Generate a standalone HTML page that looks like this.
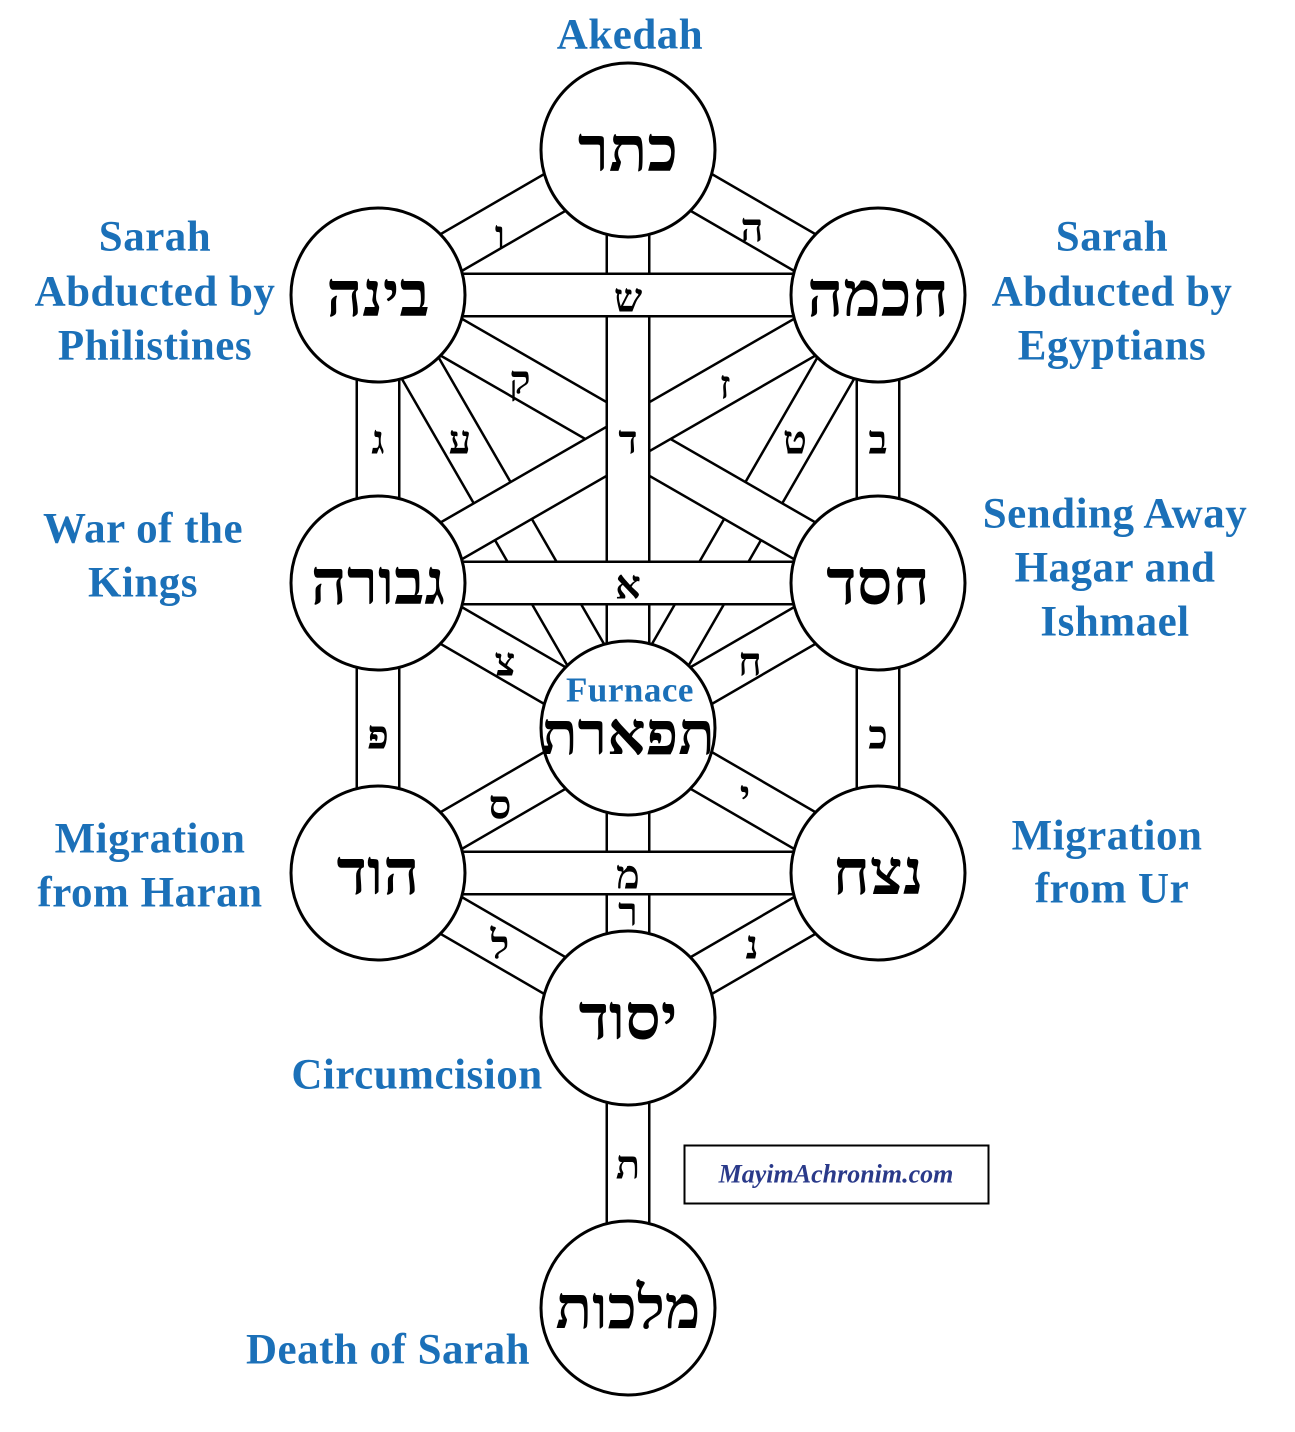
<!DOCTYPE html>
<html><head><meta charset="utf-8"><style>
html,body{margin:0;padding:0;background:#fff;}
svg{display:block;}
.lab{font-family:"Liberation Serif",serif;font-weight:bold;fill:#1b70b8;font-size:43px;letter-spacing:0.5px;text-anchor:middle;dominant-baseline:central;}
.heb{font-family:"Liberation Serif","DejaVu Serif",serif;font-weight:bold;fill:#000;text-anchor:middle;dominant-baseline:central;}
</style></head><body>
<svg width="1295" height="1432" viewBox="0 0 1295 1432" xmlns="http://www.w3.org/2000/svg">
<defs>
<line id="p1" x1="378" y1="295" x2="628" y2="728"/>
<line id="p2" x1="878" y1="295" x2="628" y2="728"/>
<line id="p3" x1="378" y1="295" x2="878" y2="583"/>
<line id="p4" x1="878" y1="295" x2="378" y2="583"/>
<line id="p5" x1="628" y1="150" x2="878" y2="295"/>
<line id="p6" x1="628" y1="150" x2="378" y2="295"/>
<line id="p7" x1="628" y1="150" x2="628" y2="728"/>
<line id="p8" x1="378" y1="295" x2="378" y2="583"/>
<line id="p9" x1="878" y1="295" x2="878" y2="583"/>
<line id="p10" x1="378" y1="295" x2="878" y2="295"/>
<line id="p11" x1="378" y1="583" x2="878" y2="583"/>
<line id="p12" x1="378" y1="583" x2="628" y2="728"/>
<line id="p13" x1="878" y1="583" x2="628" y2="728"/>
<line id="p14" x1="378" y1="583" x2="378" y2="873"/>
<line id="p15" x1="878" y1="583" x2="878" y2="873"/>
<line id="p16" x1="628" y1="728" x2="378" y2="873"/>
<line id="p17" x1="628" y1="728" x2="878" y2="873"/>
<line id="p18" x1="628" y1="728" x2="628" y2="1018"/>
<line id="p19" x1="378" y1="873" x2="878" y2="873"/>
<line id="p20" x1="378" y1="873" x2="628" y2="1018"/>
<line id="p21" x1="878" y1="873" x2="628" y2="1018"/>
<line id="p22" x1="628" y1="1018" x2="628" y2="1308"/>
</defs>
<g>
<use href="#p1" stroke="#000" stroke-width="45"/><use href="#p1" stroke="#fff" stroke-width="40"/>
<use href="#p2" stroke="#000" stroke-width="45"/><use href="#p2" stroke="#fff" stroke-width="40"/>
<use href="#p3" stroke="#000" stroke-width="45"/><use href="#p3" stroke="#fff" stroke-width="40"/>
<use href="#p4" stroke="#000" stroke-width="45"/><use href="#p4" stroke="#fff" stroke-width="40"/>
<use href="#p5" stroke="#000" stroke-width="45"/><use href="#p5" stroke="#fff" stroke-width="40"/>
<use href="#p6" stroke="#000" stroke-width="45"/><use href="#p6" stroke="#fff" stroke-width="40"/>
<use href="#p7" stroke="#000" stroke-width="45"/><use href="#p7" stroke="#fff" stroke-width="40"/>
<use href="#p8" stroke="#000" stroke-width="45"/><use href="#p8" stroke="#fff" stroke-width="40"/>
<use href="#p9" stroke="#000" stroke-width="45"/><use href="#p9" stroke="#fff" stroke-width="40"/>
<use href="#p10" stroke="#000" stroke-width="45"/><use href="#p10" stroke="#fff" stroke-width="40"/>
<use href="#p11" stroke="#000" stroke-width="45"/><use href="#p11" stroke="#fff" stroke-width="40"/>
<use href="#p12" stroke="#000" stroke-width="45"/><use href="#p12" stroke="#fff" stroke-width="40"/>
<use href="#p13" stroke="#000" stroke-width="45"/><use href="#p13" stroke="#fff" stroke-width="40"/>
<use href="#p14" stroke="#000" stroke-width="45"/><use href="#p14" stroke="#fff" stroke-width="40"/>
<use href="#p15" stroke="#000" stroke-width="45"/><use href="#p15" stroke="#fff" stroke-width="40"/>
<use href="#p16" stroke="#000" stroke-width="45"/><use href="#p16" stroke="#fff" stroke-width="40"/>
<use href="#p17" stroke="#000" stroke-width="45"/><use href="#p17" stroke="#fff" stroke-width="40"/>
<use href="#p18" stroke="#000" stroke-width="45"/><use href="#p18" stroke="#fff" stroke-width="40"/>
<use href="#p19" stroke="#000" stroke-width="45"/><use href="#p19" stroke="#fff" stroke-width="40"/>
<use href="#p20" stroke="#000" stroke-width="45"/><use href="#p20" stroke="#fff" stroke-width="40"/>
<use href="#p21" stroke="#000" stroke-width="45"/><use href="#p21" stroke="#fff" stroke-width="40"/>
<use href="#p22" stroke="#000" stroke-width="45"/><use href="#p22" stroke="#fff" stroke-width="40"/>
</g>
<g fill="#fff" stroke="#000" stroke-width="3">
<circle cx="628" cy="150" r="87"/><circle cx="378" cy="295" r="87"/><circle cx="878" cy="295" r="87"/>
<circle cx="378" cy="583" r="87"/><circle cx="878" cy="583" r="87"/><circle cx="628" cy="728" r="87"/>
<circle cx="378" cy="873" r="87"/><circle cx="878" cy="873" r="87"/><circle cx="628" cy="1018" r="87"/>
<circle cx="628" cy="1308" r="87"/>
</g>
<g class="heb" font-size="63">
<text x="628" y="150">כתר</text><text x="378" y="295">בינה</text><text x="878" y="295">חכמה</text>
<text x="378" y="583">גבורה</text><text x="878" y="583">חסד</text><text x="628" y="734" font-size="60">תפארת</text>
<text x="378" y="873">הוד</text><text x="878" y="873">נצח</text><text x="628" y="1018">יסוד</text>
<text x="628" y="1308" font-size="60">מלכות</text>
</g>
<g class="heb" font-size="40">
<text x="500" y="235">ו</text><text x="752" y="228">ה</text><text x="628" y="298">ש</text>
<text x="520" y="380">ק</text><text x="725" y="385">ז</text><text x="378" y="440">ג</text>
<text x="460" y="440">ע</text><text x="628" y="440">ד</text><text x="795" y="440">ט</text>
<text x="878" y="440">ב</text><text x="628" y="585">א</text><text x="505" y="662">צ</text>
<text x="750" y="662">ח</text><text x="378" y="735">פ</text><text x="878" y="735">כ</text>
<text x="500" y="805">ס</text><text x="745" y="795">י</text><text x="628" y="875">מ</text>
<text x="628" y="912">ר</text><text x="500" y="945">ל</text><text x="752" y="945">נ</text>
<text x="628" y="1165">ת</text>
</g>
<text class="lab" x="630" y="35">Akedah</text>
<text class="lab" x="155" y="237">Sarah</text><text class="lab" x="155" y="292">Abducted by</text><text class="lab" x="155" y="346">Philistines</text>
<text class="lab" x="1112" y="237">Sarah</text><text class="lab" x="1112" y="292">Abducted by</text><text class="lab" x="1112" y="346">Egyptians</text>
<text class="lab" x="143" y="529">War of the</text><text class="lab" x="143" y="583">Kings</text>
<text class="lab" x="1115" y="514">Sending Away</text><text class="lab" x="1115" y="568">Hagar and</text><text class="lab" x="1115" y="622">Ishmael</text>
<text class="lab" x="630" y="690" style="font-size:35px">Furnace</text>
<text class="lab" x="150" y="839">Migration</text><text class="lab" x="150" y="893">from Haran</text>
<text class="lab" x="1107" y="836">Migration</text><text class="lab" x="1112" y="889">from Ur</text>
<text class="lab" x="417" y="1075">Circumcision</text>
<text class="lab" x="388" y="1350">Death of Sarah</text>
<rect x="684.5" y="1145.5" width="304" height="58" fill="#fff" stroke="#000" stroke-width="2"/>
<text x="836" y="1174" style="font-family:'Liberation Serif',serif;font-style:italic;font-weight:bold;font-size:26px;fill:#2a3a8a;text-anchor:middle;dominant-baseline:central">MayimAchronim.com</text>
</svg>
</body></html>
